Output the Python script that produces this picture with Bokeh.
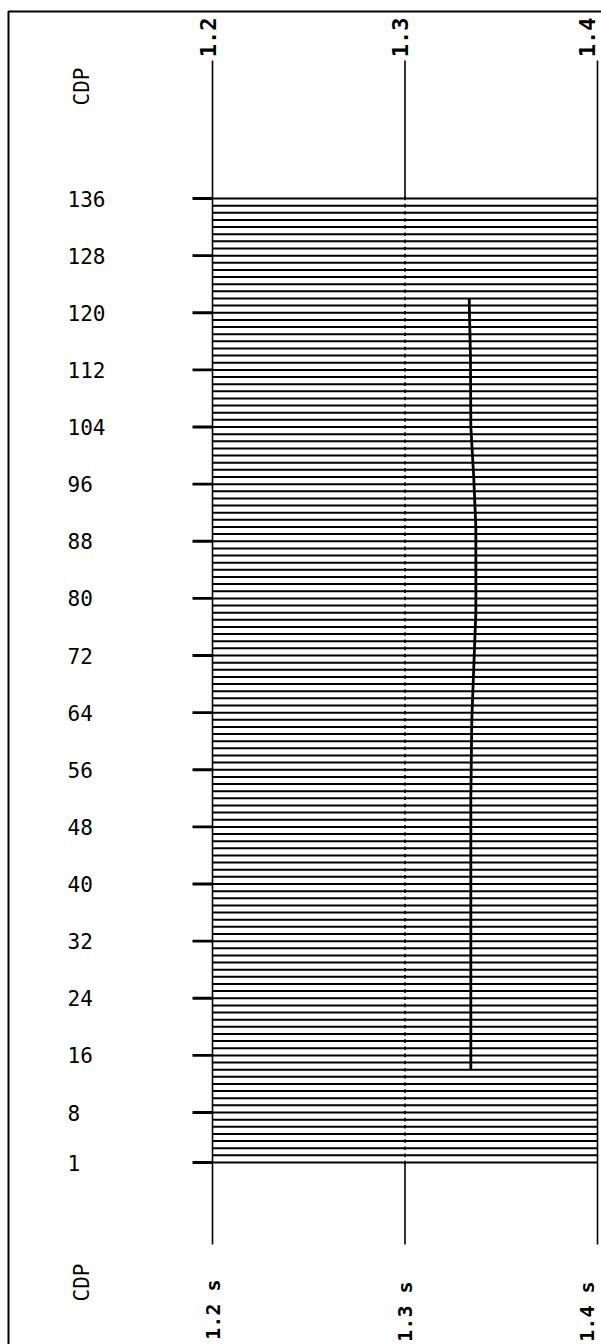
import math
from bokeh.plotting import figure
from bokeh.models import Range1d
from bokeh.core.properties import value
from bokeh.embed import file_html
from bokeh.resources import INLINE

# --- data -------------------------------------------------------------
cdp_first, cdp_last = 1, 136
cdp_tick_values = [136, 128, 120, 112, 104, 96, 88, 80, 72, 64, 56, 48, 40, 32, 24, 16, 8, 1]
time_ticks = [1.2, 1.3, 1.4]
time_top_labels = ["1.2", "1.3", "1.4"]
time_bottom_labels = ["1.2 s", "1.3 s", "1.4 s"]
t_start, t_end = 1.2, 1.4

# picked event: arrival time (s) along the CDP gather
event_cdp = [122, 121, 114, 104, 97, 90, 78, 63, 52, 40, 14]
event_time = [1.3334, 1.3334, 1.3340, 1.3342, 1.3357, 1.3368, 1.3368, 1.3347, 1.3342, 1.3342, 1.3342]

# --- page geometry ----------------------------------------------------
W, H = 601, 1344
X_T0, X_T1 = 212, 597          # screen x of 1.2 s and 1.4 s
Y_C136, Y_C1 = 198, 1162       # screen y of CDP 136 and CDP 1
sx = (X_T1 - X_T0) / (t_end - t_start)          # px per second
sy = (Y_C1 - Y_C136) / (cdp_last - cdp_first)   # px per CDP


def t_at(px):
    return t_start + (px - X_T0) / sx


def c_at(py):
    return cdp_last - (py - Y_C136) / sy


p = figure(width=W, height=H, output_backend="svg", toolbar_location=None,
           x_axis_type=None, y_axis_type=None, min_border=0,
           x_range=Range1d(t_at(0), t_at(W)), y_range=Range1d(c_at(H), c_at(0)))
p.outline_line_color = None
p.grid.visible = False
p.background_fill_color = "white"
p.border_fill_color = "white"

ink = "#000000"

# outer frame (top and left edges)
p.line([t_at(8), t_at(8), t_at(W + 5)], [c_at(H + 5), c_at(11), c_at(11)],
       line_color=ink, line_width=2)

# one horizontal line per trace
cdps = list(range(cdp_first, cdp_last + 1))
p.multi_line(xs=[[t_start, t_end] for _ in cdps], ys=[[c, c] for c in cdps],
             line_color=ink, line_width=2)

# left and right edges of the section
p.segment(x0=[t_start, t_end], y0=[cdp_first, cdp_first],
          x1=[t_start, t_end], y1=[cdp_last, cdp_last],
          line_color=ink, line_width=1.6)

# timing marks of 1.3 s on every trace
p.segment(x0=[1.3] * len(cdps), y0=[c - 0.25 for c in cdps],
          x1=[1.3] * len(cdps), y1=[c + 0.25 for c in cdps],
          line_color=ink, line_width=1.6)

# timing lines above and below the section
p.segment(x0=time_ticks, y0=[cdp_last] * 3, x1=time_ticks, y1=[c_at(60)] * 3,
          line_color=ink, line_width=1.6)
p.segment(x0=time_ticks, y0=[cdp_first] * 3, x1=time_ticks, y1=[c_at(1244)] * 3,
          line_color=ink, line_width=1.6)

# CDP ticks
p.segment(x0=[t_at(192)] * len(cdp_tick_values), y0=cdp_tick_values,
          x1=[t_start] * len(cdp_tick_values), y1=cdp_tick_values,
          line_color=ink, line_width=2.8)

# the event
p.line(event_time, event_cdp, line_color=ink, line_width=2.8)

# CDP labels
p.text(x=[t_at(67)] * len(cdp_tick_values), y=cdp_tick_values,
       text=[str(v) for v in cdp_tick_values],
       text_font=value("DejaVu Sans Mono"), text_font_size="21px",
       text_color=ink, text_align="left", text_baseline="middle")

for py in (86, 1282):
    p.text(x=[t_at(81)], y=[c_at(py)], text=["CDP"], angle=math.pi / 2,
           text_font=value("DejaVu Sans Mono"), text_font_size="21px",
           text_color=ink, text_align="center", text_baseline="middle")

# time labels
p.text(x=[t_at(207), t_at(399), t_at(586)], y=[c_at(17)] * 3, text=time_top_labels,
       angle=math.pi / 2, text_font=value("DejaVu Sans Mono"), text_font_style="bold",
       text_font_size="22px", text_color=ink, text_align="right", text_baseline="middle")
p.text(x=[t_at(212), t_at(404), t_at(586)], y=[c_at(1279), c_at(1281), c_at(1281)],
       text=time_bottom_labels,
       angle=math.pi / 2, text_font=value("DejaVu Sans Mono"), text_font_style="bold",
       text_font_size="20px", text_color=ink, text_align="right", text_baseline="middle")

open("out.html", "w").write(file_html(p, INLINE))
